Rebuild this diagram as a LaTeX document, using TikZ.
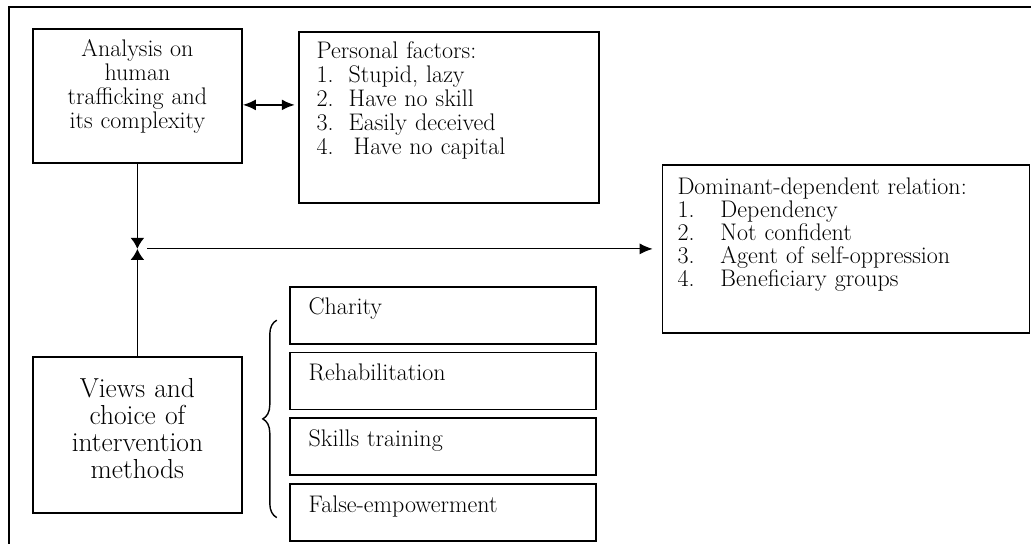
\documentclass[tikz,border=0pt]{standalone}
\usepackage{fontspec}
\usepackage{tikz}
\usetikzlibrary{arrows,arrows.meta,positioning,decorations.pathreplacing}
\tikzstyle{concept} = [draw, line width=1.8pt, text width=201pt, inner xsep=4pt, inner ysep=8pt, align=center, text height=20pt, font=\fontsize{24}{24}\selectfont]
\tikzstyle{factors} = [draw, line width=1.8pt, align=left, text height=20pt, font=\fontsize{24}{24}\selectfont]
\tikzstyle{method} = [draw, line width=1.8pt, text width=268pt, inner xsep=19pt, inner ysep=8pt, align=left, text height=20pt, text depth=21pt, font=\fontsize{24}{24}\selectfont]
\tikzstyle{tedge}  = [draw, line width=1.8pt, >={Latex[length=13pt,width=11pt]}, ->]
\tikzstyle{bowtie} = [>={Latex[length=11pt,width=14pt]}]

\begin{document}
\begin{tikzpicture}[x=1pt, y=1pt]
\useasboundingbox (0,0) rectangle (1031,544);

% frame =============================
\draw[line width=2pt] (1031,537) -- (9,537) -- (9,0);

% analysis and personal factors
\node[concept, text depth=98pt, anchor=north west] (ana) at (32,516) {Analysis on\\ human\\ trafficking and\\ its complexity};
\node[factors, text width=264pt, inner xsep=18pt, inner ysep=7pt, text depth=137pt, below right=3pt and 55pt of ana.north east] (pers) {Personal factors:\\
\makebox[32pt][l]{1.}Stupid, lazy\\
\makebox[32pt][l]{2.}Have no skill\\
\makebox[32pt][l]{3.}Easily deceived\\
\makebox[37pt][l]{4.}Have no capital};

% dominant-dependent relation
\node[factors, text width=337pt, inner xsep=15pt, inner ysep=8pt, text height=22pt, text depth=130pt, font=\fontsize{24}{23}\selectfont, below right=133pt and 62pt of pers.north east] (dom) {Dominant-dependent relation:\\
\makebox[43pt][l]{1.}Dependency\\
\makebox[43pt][l]{2.}Not confident\\
\makebox[43pt][l]{3.}Agent of self-oppression\\
\makebox[43pt][l]{4.}Beneficiary groups};

% views and intervention methods
\node[concept, text height=26pt, inner ysep=15pt, text depth=100pt, font=\fontsize{27.5}{27}\selectfont, below=192pt of ana] (view) {Views and\\ choice of\\ intervention\\ methods};

\node[method, below right=122pt and 46pt of ana.south east] (charity) {Charity};
\node[method, below=7pt of charity] (rehab) {Rehabilitation};
\node[method, below=7pt of rehab] (skills) {Skills training};
\node[method, below=7pt of skills] (fempow) {False-empowerment};

\coordinate (jn) at (ana.south |- dom.west);

% edges
\path[tedge, <->, shorten >=3pt] ([yshift=-9pt]ana.east) -- ([yshift=-9pt]ana.east -| pers.west);
\path[tedge, bowtie] (ana) -- (jn);
\path[tedge, bowtie] (view) -- (jn);
\path[tedge, line width=1pt, shorten >=9pt] ([xshift=10pt]jn) -- (dom);

% brace
\draw[line width=1.4pt, decorate, decoration={brace, amplitude=14pt}] ([xshift=-12pt,yshift=-5pt]fempow.west) -- ([xshift=-12pt,yshift=-5pt]charity.west);

\end{tikzpicture}
\end{document}
